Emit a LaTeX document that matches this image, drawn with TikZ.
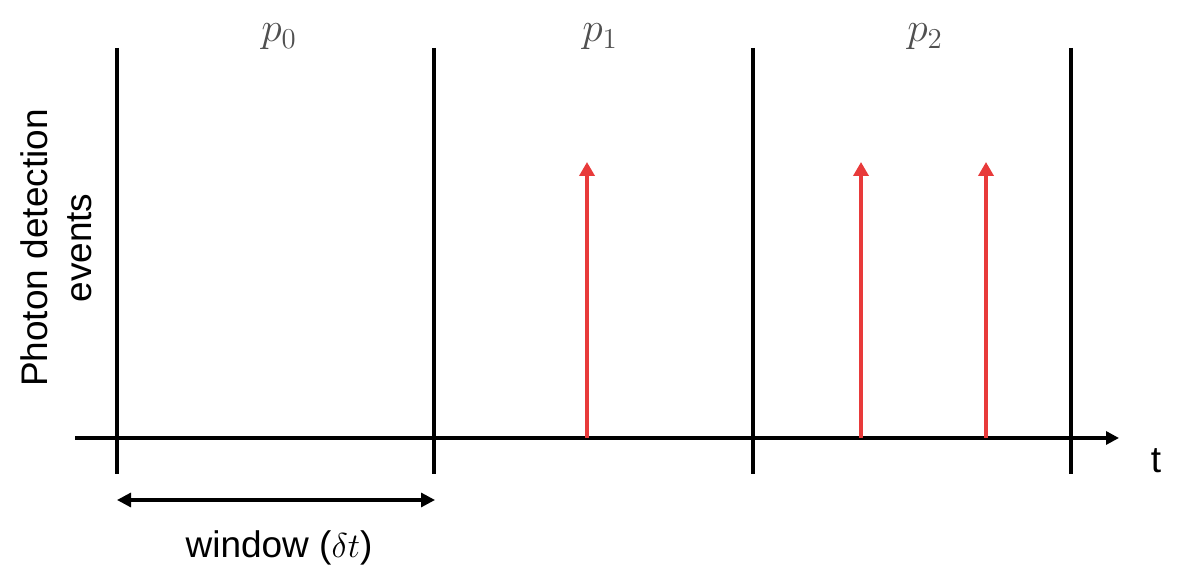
\documentclass[tikz,border=0pt]{standalone}
\usepackage{fontspec}
\setmainfont{Liberation Sans}
\usetikzlibrary{arrows.meta}
\definecolor{evred}{RGB}{232,58,58}
\definecolor{lblgray}{RGB}{80,80,80}
\begin{document}
\begin{tikzpicture}[x=0.5pt,y=-0.5pt,
  divider/.style={line width=1.6pt,black},
  axisline/.style={line width=1.6pt,black,-{Triangle[length=6.5pt,width=6.5pt]}},
  event/.style={line width=2pt,evred,-{Triangle[length=7pt,width=7.5pt]}},
  winarrow/.style={line width=1.6pt,black,{Triangle[length=7pt,width=7pt]}-{Triangle[length=7pt,width=7pt]}},
  plabel/.style={text=lblgray,font=\fontsize{21}{24}\selectfont},
  txt/.style={font=\fontsize{18.5}{22}\selectfont}]
\useasboundingbox (0,0) rectangle (1184,576);
% dividers
\foreach \i/\x in {0/117,1/434,2/753,3/1071}{
  \coordinate (d\i top) at (\x,48);
  \coordinate (d\i bot) at (\x,474);
  \draw[divider] (d\i top) -- (d\i bot);
}
% axis
\coordinate (axs) at (75,438);
\coordinate (axe) at (1119,438);
\draw[axisline] (axs) -- (axe);
% events
\foreach \i/\x in {1/587,2/861,3/986}{
  \coordinate (e\i b) at (\x,438);
  \coordinate (e\i t) at (\x,162);
  \draw[event] (e\i b) -- (e\i t);
}
% labels
\node[plabel] (p0) at (279,37) {$p_0$};
\node[plabel] (p1) at (600,37) {$p_1$};
\node[plabel] (p2) at (925,37) {$p_2$};
\node[txt] (tl) at (1156,461) {t};
\node[txt,rotate=90,align=center] (ylab) at (56,248) {Photon detection\\events};
% window
\coordinate (w0) at (117,500);
\coordinate (w1) at (435,500);
\draw[winarrow] (w0) -- (w1);
\node[txt] (wl) at (279,548) {window ($\delta t$)};
\end{tikzpicture}
\end{document}
